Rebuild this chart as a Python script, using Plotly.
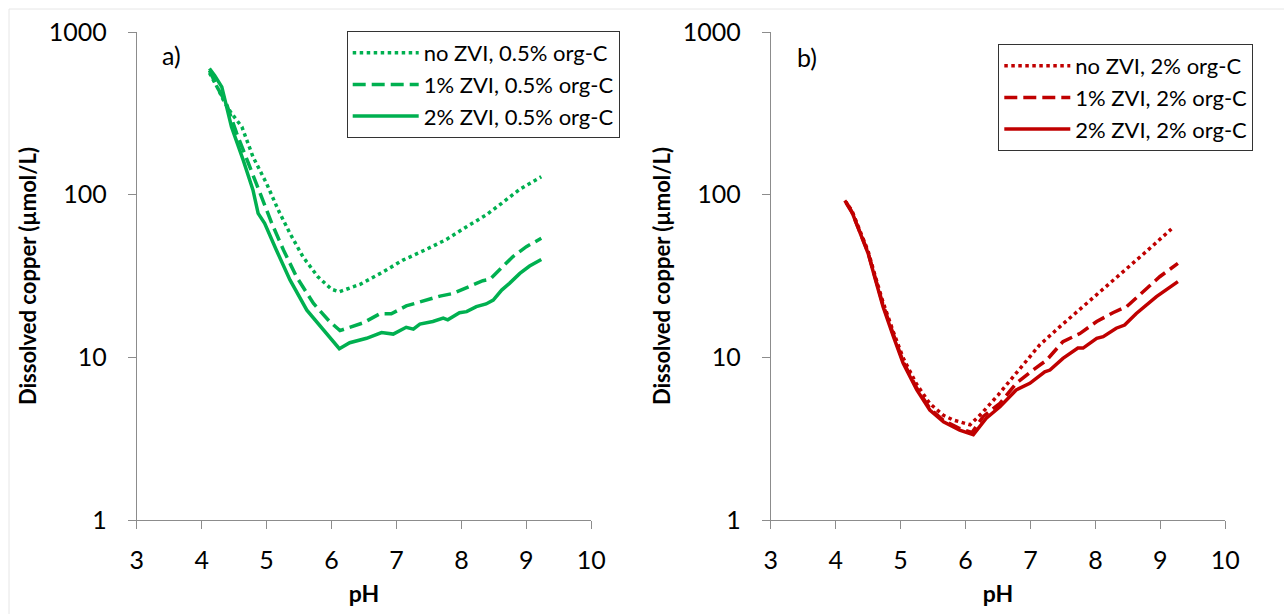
import plotly.graph_objects as go

# ---------------- data ----------------
# Panel a) 0.5% org-C
a_none_pH = [4.12, 4.25, 4.35, 4.46, 4.62, 4.79, 5.00, 5.18, 5.36, 5.56, 5.79, 6.00, 6.12,
             6.44, 6.77, 7.10, 7.44, 7.77, 8.08, 8.38, 8.62, 8.90, 9.23]
a_none_cu = [560, 450, 370, 316, 261, 171, 117, 80.4, 57.8, 41.5, 31.3, 26.2, 25.3,
             28.1, 33.1, 39.6, 45.7, 53.1, 63.5, 75, 88.5, 108, 129]

a_1zvi_pH = [4.12, 4.25, 4.38, 4.54, 4.72, 4.90, 5.08, 5.26, 5.46, 5.72, 5.97, 6.13, 6.49,
             6.74, 6.92, 7.15, 7.36, 7.67, 7.87, 8.10, 8.33, 8.44, 8.59, 8.79, 9.00, 9.23]
a_1zvi_cu = [580, 450, 364, 238, 156, 102, 66.7, 45.7, 31.3, 21.5, 16.6, 14.6, 16.3,
             18.5, 18.5, 20.7, 22.0, 23.8, 24.7, 27.2, 29.6, 30.2, 34.4, 41.5, 47.9, 53.9]

a_2zvi_pH = [4.12, 4.20, 4.31, 4.46, 4.64, 4.79, 4.87, 4.97, 5.15, 5.36, 5.62, 5.87, 6.12,
             6.28, 6.54, 6.77, 6.95, 7.15, 7.26, 7.36, 7.56, 7.72, 7.79, 7.97, 8.08, 8.23,
             8.38, 8.49, 8.62, 8.74, 8.90, 9.05, 9.23]
a_2zvi_cu = [597, 540, 460, 261, 163, 107, 76.7, 66.6, 45.7, 29.9, 19.5, 14.7, 11.3,
             12.3, 13.1, 14.2, 13.9, 15.3, 14.9, 16.0, 16.6, 17.4, 17.0, 18.8, 19.1, 20.5,
             21.3, 22.5, 25.9, 28.5, 32.8, 36.4, 40.0]

# Panel b) 2% org-C
b_none_pH = [4.14, 4.25, 4.42, 4.50, 4.60, 4.73, 4.89, 5.04, 5.25, 5.45, 5.66, 5.81, 6.07,
             6.25, 6.50, 6.84, 7.14, 7.45, 7.81, 8.12, 8.43, 8.78, 9.17]
b_none_cu = [92, 80, 54, 45, 32.5, 21.8, 14.3, 9.9, 6.8, 5.2, 4.4, 4.12, 3.85,
             4.53, 5.86, 8.56, 11.9, 15.4, 20.5, 26.5, 33.6, 44.6, 61.5]

b_1zvi_pH = [4.16, 4.25, 4.42, 4.50, 4.60, 4.73, 4.89, 5.04, 5.25, 5.45, 5.66, 5.91, 6.10,
             6.27, 6.53, 6.78, 7.04, 7.25, 7.50, 7.76, 8.02, 8.27, 8.48, 8.68, 8.99, 9.27]
b_1zvi_cu = [89, 78, 53, 44, 31.8, 21, 13.8, 9.4, 6.45, 4.85, 4.1, 3.65, 3.45,
             4.32, 5.21, 6.92, 8.35, 9.62, 12.5, 14.0, 16.6, 18.8, 20.5, 24.2, 31.3, 37.8]

b_2zvi_pH = [4.16, 4.25, 4.42, 4.50, 4.60, 4.73, 4.89, 5.04, 5.25, 5.45, 5.66, 5.91, 6.12,
             6.32, 6.53, 6.78, 6.99, 7.22, 7.30, 7.50, 7.73, 7.81, 8.02, 8.12, 8.32, 8.45,
             8.63, 8.94, 9.27]
b_2zvi_cu = [90.4, 78.5, 52.6, 43.6, 31.3, 20.5, 13.4, 9.19, 6.30, 4.74, 4.02, 3.57, 3.35,
             4.22, 4.97, 6.30, 6.92, 8.15, 8.35, 9.86, 11.4, 11.4, 13.1, 13.4, 15.1, 15.8,
             18.6, 23.6, 29.2]

names_a = ["no ZVI, 0.5% org-C", "1% ZVI, 0.5% org-C", "2% ZVI, 0.5% org-C"]
names_b = ["no ZVI, 2% org-C", "1% ZVI, 2% org-C", "2% ZVI, 2% org-C"]
x_ticks = [3, 4, 5, 6, 7, 8, 9, 10]
y_ticks = [1, 10, 100, 1000]
panel_labels = ["a)", "b)"]

# ---------------- styling ----------------
GREEN = "#00B050"
RED = "#C00000"
LW = 3.5
DASHES = ["dot", "13px,6px", "solid"]
FONT = "Lato, 'Open Sans', sans-serif"
AXIS_COL = "#8C8C8C"

W, H = 1284, 614
def px_x(p):
    return p / W
def px_y(p):
    return 1 - p / H

fig = go.Figure()

series_a = [(a_none_pH, a_none_cu), (a_1zvi_pH, a_1zvi_cu), (a_2zvi_pH, a_2zvi_cu)]
series_b = [(b_none_pH, b_none_cu), (b_1zvi_pH, b_1zvi_cu), (b_2zvi_pH, b_2zvi_cu)]

for (xs, ys), nm, dsh in zip(series_a, names_a, DASHES):
    fig.add_trace(go.Scatter(x=xs, y=ys, name=nm, mode="lines",
                             line=dict(color=GREEN, width=LW, dash=dsh),
                             xaxis="x", yaxis="y", legend="legend"))
for (xs, ys), nm, dsh in zip(series_b, names_b, DASHES):
    fig.add_trace(go.Scatter(x=xs, y=ys, name=nm, mode="lines",
                             line=dict(color=RED, width=LW, dash=dsh),
                             xaxis="x2", yaxis="y2", legend="legend2"))

ydom = [px_y(520), px_y(32)]
xdom1 = [px_x(136.7), px_x(591.3)]
xdom2 = [px_x(770.7), px_x(1225.3)]

xcommon = dict(range=[3, 10], tickvals=x_ticks, showgrid=False, zeroline=False,
               automargin=False,
               showline=True, linecolor=AXIS_COL, linewidth=1,
               ticks="outside", ticklen=8, tickcolor=AXIS_COL, tickwidth=1,
               tickfont=dict(family=FONT, size=25, color="#000000"),
               ticklabelstandoff=10,
               title=dict(text="<b>pH</b>", font=dict(family=FONT, size=23, color="#000000"),
                          standoff=12))
ycommon = dict(type="log", range=[0, 3], tickvals=y_ticks, ticktext=[str(v) for v in y_ticks],
               showgrid=False, zeroline=False, automargin=False,
               showline=True, linecolor=AXIS_COL, linewidth=1,
               ticks="outside", ticklen=8, tickcolor=AXIS_COL, tickwidth=1,
               tickfont=dict(family=FONT, size=25, color="#000000"),
               ticklabelstandoff=16,
               title=dict(text="<b>Dissolved copper (µmol/L)</b>",
                          font=dict(family=FONT, size=22, color="#000000"), standoff=5))

legcommon = dict(bordercolor="#333333", borderwidth=1, bgcolor="#FFFFFF",
                 font=dict(family=FONT, size=22, color="#000000"),
                 xanchor="left", yanchor="top", tracegroupgap=0, itemwidth=66)

fig.update_layout(
    width=W, height=H,
    margin=dict(l=0, r=0, t=0, b=0, autoexpand=False),
    paper_bgcolor="#FFFFFF", plot_bgcolor="#FFFFFF",
    xaxis=dict(domain=xdom1, anchor="y", **xcommon),
    yaxis=dict(domain=ydom, anchor="x", **ycommon),
    xaxis2=dict(domain=xdom2, anchor="y2", **xcommon),
    yaxis2=dict(domain=ydom, anchor="x2", **ycommon),
    legend=dict(x=px_x(346.7), y=px_y(31), **legcommon),
    legend2=dict(x=px_x(998.3), y=px_y(44), **legcommon),
    annotations=[
        dict(text=panel_labels[0], x=px_x(171.7), y=px_y(55), xref="paper", yref="paper",
             xanchor="center", yanchor="middle",
             showarrow=False, font=dict(family=FONT, size=25, color="#000000")),
        dict(text=panel_labels[1], x=px_x(806.7), y=px_y(56.7), xref="paper", yref="paper",
             xanchor="center", yanchor="middle",
             showarrow=False, font=dict(family=FONT, size=25, color="#000000")),
    ],
    shapes=[dict(type="rect", xref="paper", yref="paper", x0=px_x(9), y0=-0.01, x1=1.01, y1=px_y(9),
                 line=dict(color="#E6E6E6", width=1), layer="below")],
)

fig.write_html("out.html", config={"displayModeBar": False},
               post_script="document.body.style.margin='0';")
